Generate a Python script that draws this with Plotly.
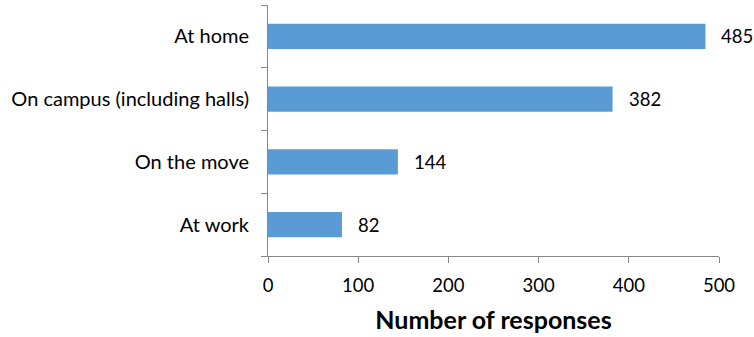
import plotly.graph_objects as go

categories = ["At work", "On the move", "On campus (including halls)", "At home"]
values = [82, 144, 382, 485]
x_ticks = [0, 100, 200, 300, 400, 500]

font_family = "Lato, Open Sans, sans-serif"

fig = go.Figure(go.Bar(
    y=categories, x=values, orientation="h",
    marker=dict(color="#5B9BD5", line=dict(width=0)),
    cliponaxis=False,
))

for c, v in zip(categories, values):
    fig.add_annotation(
        x=v, y=c, xref="x", yref="y", text=str(v), showarrow=False,
        xanchor="left", yanchor="middle", xshift=14,
        font=dict(size=18.5, color="#000000", family=font_family),
    )

fig.update_layout(
    width=754, height=337,
    margin=dict(l=268, r=35, t=5, b=81),
    paper_bgcolor="white", plot_bgcolor="white",
    bargap=0.6,
    showlegend=False,
    font=dict(family=font_family, size=20, color="#000000"),
)
fig.update_xaxes(
    range=[0, 500], tickvals=x_ticks, showgrid=False, zeroline=False,
    showline=True, linecolor="#868686", linewidth=1,
    ticks="outside", ticklen=6, tickcolor="#868686",
    tickfont=dict(size=18.5, color="#000000"),
    ticklabelstandoff=7,
    title=dict(text="<b>Number of responses</b>", font=dict(size=25, color="#000000"), standoff=16),
)
fig.update_yaxes(
    showgrid=False, zeroline=False,
    showline=True, linecolor="#868686", linewidth=1,
    ticks="outside", ticklen=6, tickcolor="#868686", tickson="boundaries",
    tickfont=dict(size=20, color="#000000"),
    ticklabelstandoff=14,
)

fig.write_html("out.html")
